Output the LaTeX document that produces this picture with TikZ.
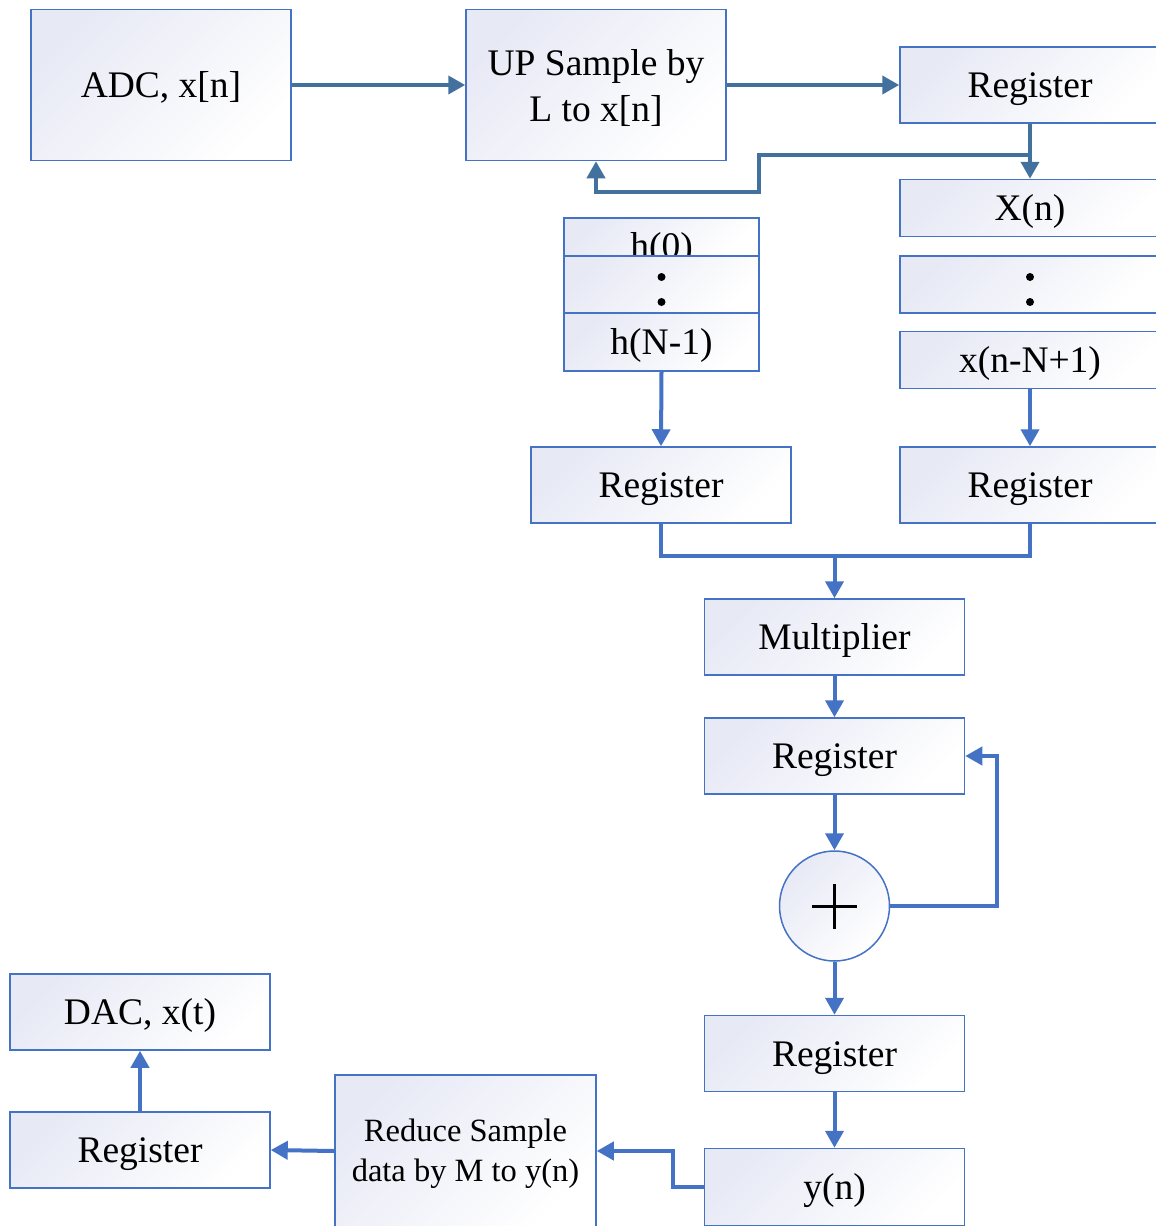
\documentclass[tikz,border=0pt]{standalone}
\usepackage{fontspec}
\setmainfont{Liberation Serif}
\usetikzlibrary{arrows.meta}
\definecolor{bordc}{HTML}{4472C4}
\definecolor{arrA}{HTML}{41719C}
\definecolor{arrB}{HTML}{4472C4}
\definecolor{fillc}{HTML}{E7E9F5}
\tikzset{
  shd/.style={top color=fillc, bottom color=white, shading angle=45},
  blk/.style={draw=bordc, line width=1.5pt, shd, minimum width=260pt, minimum height=76pt,
    inner sep=0pt, font=\fontsize{37.5}{46}\selectfont,
    text height=25pt, text depth=0pt},
  mblk/.style={draw=bordc, line width=1.5pt, shd, minimum width=260pt, minimum height=76pt,
    inner sep=0pt},
  txt/.style={inner sep=0pt, font=\fontsize{37.5}{46}\selectfont},
  arA/.style={draw=arrA, line width=4pt, -{Triangle[length=17pt,width=18pt]}},
  lnA/.style={draw=arrA, line width=4pt},
  arB/.style={draw=arrB, line width=4pt, -{Triangle[length=17pt,width=18pt]}},
  lnB/.style={draw=arrB, line width=4pt},
}
\begin{document}
\begin{tikzpicture}[x=1pt,y=-1pt]
\useasboundingbox (0,0) rectangle (1156,1226);
% top row
\node[blk, minimum height=151pt] (adc) at (161,85) {ADC, x[n]};
\node[mblk, minimum height=151pt,
  label={[txt, align=center, yshift=-3pt]center:UP Sample by\\L to x[n]}] (up) at (596,85) {};
\node[blk] (reg1) at (1030,85) {Register};
% x column
\node[blk, minimum height=57pt] (xn) at (1030,208) {X(n)};
\node[blk, minimum height=57pt] (xd) at (1030,284.5) {};
\node[blk, minimum height=57pt] (xN) at (1030,360) {x(n-N+1)};
% h column
\node[blk, minimum width=195pt, minimum height=38pt] (h0) at (661.5,237) {};
\node[txt, anchor=base] (h0t) at (661.5,258) {h(0)};
\node[blk, minimum width=195pt, minimum height=57pt] (hd) at (661.5,284.5) {};
\node[blk, minimum width=195pt, minimum height=58pt] (hN) at (661.5,342) {h(N-1)};
% dots
\fill (661.5,277) circle (4pt);
\fill (661.5,302) circle (4pt);
\fill (1030,277) circle (4pt);
\fill (1030,302) circle (4pt);
% registers
\node[blk] (regh) at (661,485) {Register};
\node[blk] (regx) at (1030,485) {Register};
\node[blk] (mul) at (834.5,637) {Multiplier};
\node[blk] (reg3) at (834.5,756) {Register};
\node[circle, draw=bordc, line width=1.5pt, shd, minimum size=110pt, inner sep=0pt] (sum) at (834.5,906) {};
\draw[line width=3pt] (812,906) -- (857,906);
\draw[line width=3pt] (834.5,884) -- (834.5,929);
\node[blk] (reg4) at (834.5,1053.5) {Register};
\node[blk, minimum height=77pt] (yn) at (834.5,1187) {y(n)};
\node[mblk, minimum width=261pt, minimum height=152pt,
  label={[txt, align=center, font=\fontsize{32.5}{40}\selectfont, yshift=-3pt]center:Reduce Sample\\data by M to y(n)}] (red) at (465.5,1151) {};
\node[blk] (reg5) at (140,1150) {Register};
\node[blk] (dac) at (140,1012) {DAC, x(t)};
% connectors (top)
\draw[arA] (adc.east) -- (up.west);
\draw[arA] (up.east) -- (reg1.west);
\draw[arA] (reg1.south) -- (xn.north);
\coordinate (br) at (1030,155);
\draw[arA] (br) -- (759,155) -- (759,192) -| (up.south);
% connectors (lower)
\draw[arB] (hN.south) -- (regh.north);
\draw[arB] (xN.south) -- (regx.north);
\draw[lnB] (regh.south) -- ++(0,32) -| (regx.south);
\coordinate (mj) at (834.5,555);
\draw[arB] (mj) -- (mul.north);
\draw[arB] (mul.south) -- (reg3.north);
\draw[arB] (reg3.south) -- (sum.north);
\draw[arB] (sum.east) -- (997,906) |- (reg3.east);
\draw[arB] (sum.south) -- (reg4.north);
\draw[arB] (reg4.south) -- (yn.north);
\draw[arB] (yn.west) -- (673,1187) |- (red.east);
\draw[arB] (red.west) -- (reg5.east);
\draw[arB] (reg5.north) -- (dac.south);
\end{tikzpicture}
\end{document}
